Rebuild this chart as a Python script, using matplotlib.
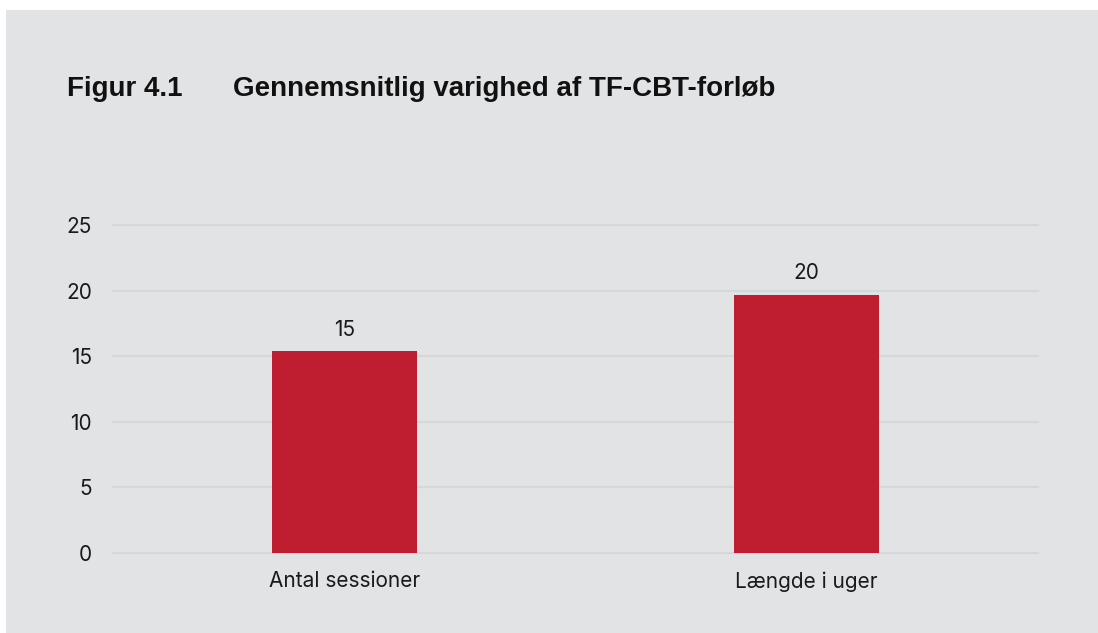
import matplotlib.pyplot as plt
from matplotlib.patches import Rectangle

# Data
categories = ["Antal sessioner", "Længde i uger"]
values = [15.4, 19.7]
value_labels = ["15", "20"]
yticks = [0, 5, 10, 15, 20, 25]

W, H = 1098, 633
bg = "#e2e3e5"
grid = "#d6d7d9"
red = "#be1e2f"

fig = plt.figure(figsize=(W / 100, H / 100), dpi=100, facecolor="white")

# grey panel behind everything
fig.patches.append(Rectangle((6 / W, 0), 1 - 6 / W, 1 - 10 / H,
                             transform=fig.transFigure, facecolor=bg,
                             edgecolor="none", zorder=-10))

ax = fig.add_axes([113 / W, 1 - 553 / H, (1038 - 113) / W, (553 - 225) / H])
ax.set_facecolor("none")
ax.set_zorder(5)

x = range(len(categories))
ax.bar(x, values, width=0.313, color=red, zorder=3)
for i, (v, lab) in enumerate(zip(values, value_labels)):
    ax.annotate(lab, (i, v), xytext=(0, 8), textcoords="offset points",
                ha="center", va="bottom", fontsize=15, family="Inter",
                color="#1a1a1a")

ax.set_xlim(-0.5, 1.5)
ax.set_ylim(0, 25)
ax.set_yticks(yticks)
ax.set_xticks(list(x))
ax.set_xticklabels(categories)
for t in ax.get_yticklabels() + ax.get_xticklabels():
    t.set_family("Inter")
    t.set_fontsize(15)
    t.set_color("#1a1a1a")
ax.tick_params(axis="y", length=0, pad=15)
ax.tick_params(axis="x", length=0, pad=13)
for y in yticks:
    ax.axhline(y, color=grid, linewidth=1.5, zorder=1, clip_on=False)
for s in ax.spines.values():
    s.set_visible(False)

fig.text(67 / W, 1 - 89 / H, "Figur 4.1", fontsize=20, fontweight="bold",
         family="Liberation Sans", va="center", color="#111111")
fig.text(233 / W, 1 - 89 / H, "Gennemsnitlig varighed af TF-CBT-forløb",
         fontsize=20, fontweight="bold", family="Liberation Sans",
         va="center", color="#111111")

fig.savefig("out.png", dpi=100, facecolor="white")
